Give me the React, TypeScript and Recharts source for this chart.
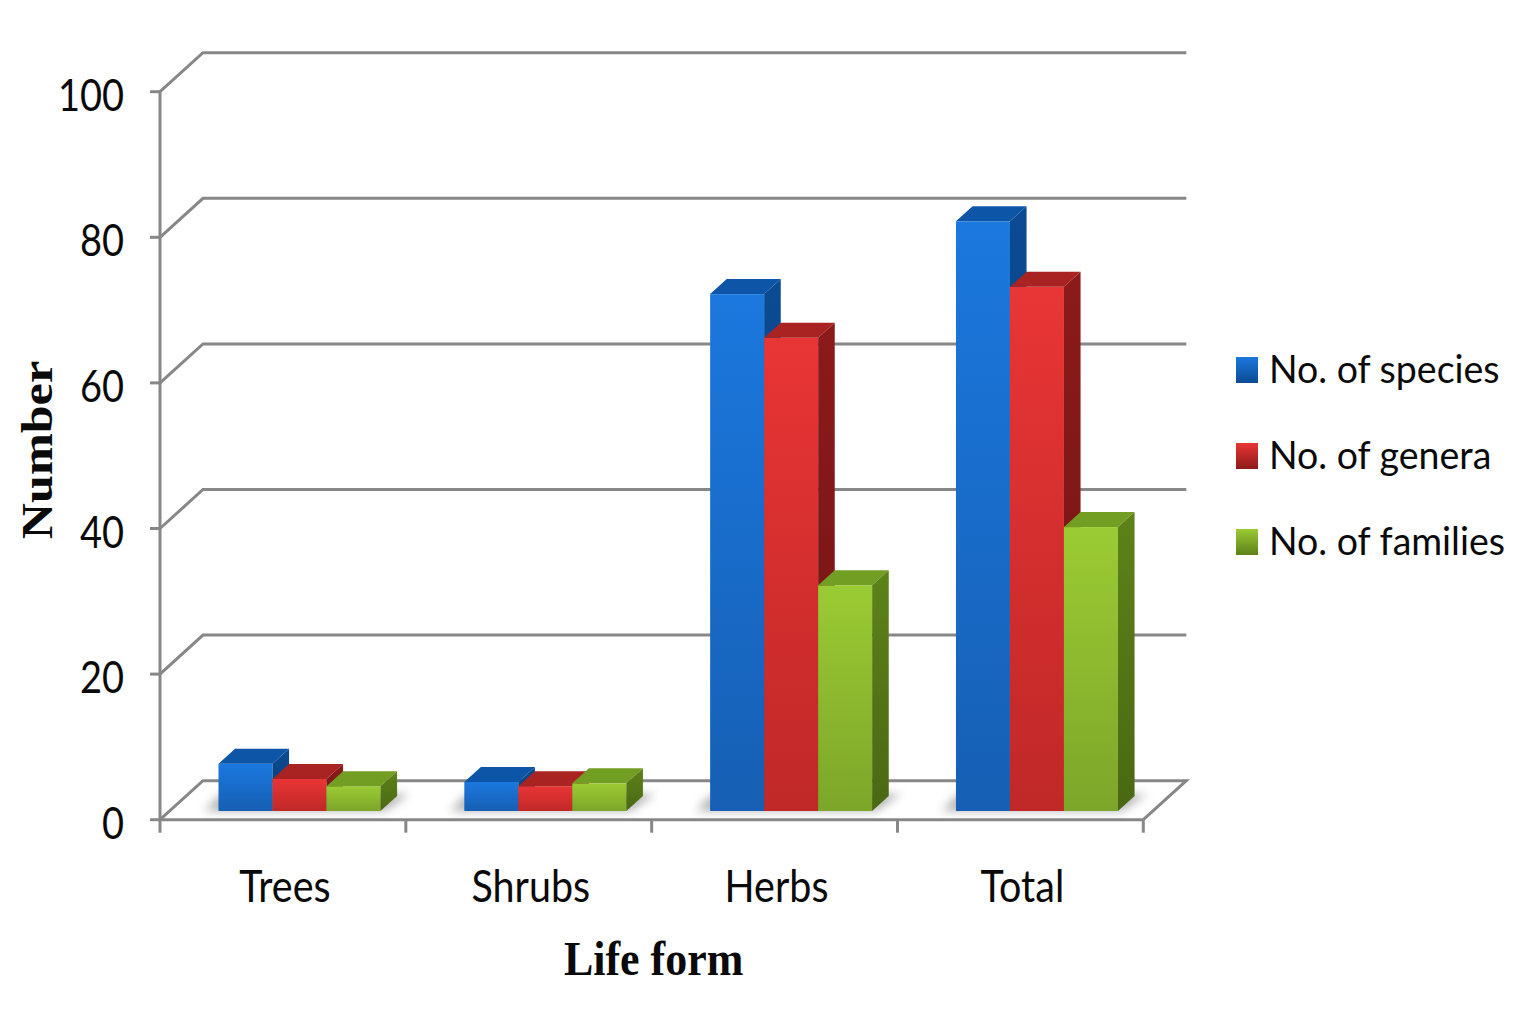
import React from 'react';
import { BarChart, Bar, XAxis, YAxis, CartesianGrid, Legend, Label } from 'recharts';

// ---- data ----
const categories = ['Trees', 'Shrubs', 'Herbs', 'Total'];
const speciesCounts = [6.5, 4, 71, 81];
const generaCounts = [4.4, 3.4, 65, 72];
const familyCounts = [3.4, 3.8, 31, 39];
const yTicks = [0, 20, 40, 60, 80, 100];
const seriesKeys = ['species', 'genera', 'families'];
const seriesNames = ['No. of species', 'No. of genera', 'No. of families'];

const data = categories.map((c, i) => ({
  name: c,
  species: speciesCounts[i],
  genera: generaCounts[i],
  families: familyCounts[i],
}));

// ---- style constants ----
const GRID_DX = 43;
const GRID_DY = 39;
const BAR_SHIFT_X = 16.7;
const BAR_SHIFT_Y = 8.7;
const TOP_DX = 16.6;
const TOP_DY = 15;
const LINE = '#878787';
const TICK_FONT = 'Lato, Carlito, "Open Sans", sans-serif';
const SERIF = '"Liberation Serif", "Times New Roman", serif';

const palettes: Record<string, any> = {
  species: { f1: '#1b78de', f2: '#165fb4', top: '#0d56a7', s1: '#0b4b93', s2: '#083b74' },
  genera: { f1: '#e93535', f2: '#c02828', top: '#a92323', s1: '#8c1a1a', s2: '#721414' },
  families: { f1: '#9bcb33', f2: '#7ca629', top: '#729e24', s1: '#5d8219', s2: '#4a6813' },
};

const StretchText = ({ x, y, sx = 1, sy = 1, rotate = 0, anchor = 'start', size, family, weight = 'normal', children }: any) => (
  <text
    transform={`translate(${x},${y}) rotate(${rotate}) scale(${sx},${sy})`}
    x={0}
    y={0}
    textAnchor={anchor}
    fontSize={size}
    fontFamily={family}
    fontWeight={weight}
    fill="#0a0a0a"
  >
    {children}
  </text>
);

const makeShape = (key: string, withShadow: boolean) => (props: any) => {
  const { x, y, width, height } = props;
  if (x == null || y == null || width == null || height == null) return <g />;
  const h = Math.max(height, 0);
  const fx = x + BAR_SHIFT_X;
  const fy = y - BAR_SHIFT_Y;
  const pal = palettes[key];
  const top = `${fx},${fy} ${fx + TOP_DX},${fy - TOP_DY} ${fx + width + TOP_DX},${fy - TOP_DY} ${fx + width},${fy}`;
  const side = `${fx + width},${fy} ${fx + width + TOP_DX},${fy - TOP_DY} ${fx + width + TOP_DX},${fy + h - TOP_DY} ${fx + width},${fy + h}`;
  const floor = fy + h;
  const gw = width * seriesKeys.length;
  const shadow = `${fx - 14},${floor} ${fx + gw + 4},${floor} ${fx + gw + TOP_DX + 12},${floor - TOP_DY - 2} ${fx + TOP_DX - 14},${floor - TOP_DY - 2}`;
  return (
    <g>
      {withShadow && <polygon points={shadow} fill="rgba(0,0,0,0.3)" filter="url(#barShadow)" />}
      <rect x={fx} y={fy} width={width} height={h} fill={`url(#front-${key})`} />
      <polygon points={top} fill={pal.top} />
      <polygon points={side} fill={`url(#side-${key})`} />
    </g>
  );
};

const renderGridLine = (props: any) => {
  const { x1, y1, x2 } = props;
  const bottom = typeof props.y === 'number' && typeof props.height === 'number' ? props.y + props.height : null;
  const isBottom = bottom != null ? Math.abs(y1 - bottom) < 1 : y1 > 800;
  let d = `M${x1},${y1} L${x1 + GRID_DX},${y1 - GRID_DY} L${x2 + GRID_DX},${y1 - GRID_DY}`;
  if (isBottom) d += ` L${x2},${y1}`;
  const ticks: any[] = [];
  if (isBottom) {
    const n = categories.length;
    for (let k = 0; k <= n; k++) {
      const tx = x1 + ((x2 - x1) * k) / n;
      ticks.push(<line key={k} x1={tx} y1={y1} x2={tx} y2={y1 + 13} stroke={LINE} strokeWidth={3} />);
    }
  }
  return (
    <g key={`grid-${y1}`}>
      <path d={d} fill="none" stroke={LINE} strokeWidth={3} />
      {ticks}
    </g>
  );
};

const YTick = (props: any) => {
  const { x, y, payload } = props;
  return (
    <StretchText x={x - 26} y={y + 19} sy={1.15} anchor="end" size={38} family={TICK_FONT}>
      {payload.value}
    </StretchText>
  );
};

const XTick = (props: any) => {
  const { x, y, payload } = props;
  return (
    <StretchText x={x + 2} y={y + 82} sy={1.12} anchor="middle" size={39.5} family={TICK_FONT}>
      {payload.value}
    </StretchText>
  );
};

const LifeFormLabel = (props: any) => {
  const vb = props.viewBox || { x: 160, y: 820, width: 983 };
  return (
    <StretchText x={vb.x + vb.width / 2 + 2} y={vb.y + 155} sy={1.12} anchor="middle" size={44} family={SERIF} weight="bold">
      Life form
    </StretchText>
  );
};

const NumberLabel = (props: any) => {
  const vb = props.viewBox || { x: 60, y: 92, width: 100, height: 728 };
  return (
    <StretchText x={vb.x - 8.5} y={vb.y + vb.height / 2 - 5.7} rotate={-90} sx={1.14} anchor="middle" size={44} family={SERIF} weight="bold">
      Number
    </StretchText>
  );
};

const LegendContent = () => (
  <svg width={310} height={250}>
    {seriesKeys.map((k, i) => (
      <g key={k}>
        <rect x={10} y={27 + i * 86} width={22} height={26} fill={`url(#legend-${k})`} />
        <StretchText x={43} y={53.3 + i * 86} sy={1.02} size={37.5} family={TICK_FONT}>
          {seriesNames[i]}
        </StretchText>
      </g>
    ))}
  </svg>
);

const Defs = () => (
  <svg width={0} height={0} style={{ position: 'absolute', left: 0, top: 0 }}>
    <defs>
      <filter id="barShadow" x="-50%" y="-200%" width="200%" height="500%">
        <feGaussianBlur stdDeviation="5" />
      </filter>
      {seriesKeys.map((k) => (
        <React.Fragment key={k}>
          <linearGradient id={`front-${k}`} x1="0" y1="0" x2="0" y2="1">
            <stop offset="0%" stopColor={palettes[k].f1} />
            <stop offset="100%" stopColor={palettes[k].f2} />
          </linearGradient>
          <linearGradient id={`side-${k}`} x1="0" y1="0" x2="0" y2="1">
            <stop offset="0%" stopColor={palettes[k].s1} />
            <stop offset="100%" stopColor={palettes[k].s2} />
          </linearGradient>
          <linearGradient id={`legend-${k}`} x1="0" y1="0" x2="0" y2="1">
            <stop offset="0%" stopColor={palettes[k].f1} />
            <stop offset="100%" stopColor={palettes[k].s1} />
          </linearGradient>
        </React.Fragment>
      ))}
    </defs>
  </svg>
);

export default function App() {
  return (
    <div style={{ position: 'absolute', left: 0, top: 0, width: 1536, height: 1024, background: '#fff' }}>
      <Defs />
      <BarChart
        width={1536}
        height={1024}
        data={data}
        margin={{ top: 91.7, right: 392.7, bottom: 144.3, left: 60 }}
        barCategoryGap="17%"
        barGap={0}
      >
        <CartesianGrid vertical={false} horizontal={renderGridLine as any} />
        <XAxis
          dataKey="name"
          height={60}
          tickLine={false}
          tickSize={0}
          tickMargin={0}
          axisLine={{ stroke: LINE, strokeWidth: 3 }}
          tick={<XTick />}
          interval={0}
        >
          <Label content={<LifeFormLabel />} />
        </XAxis>
        <YAxis
          width={100}
          domain={[0, 100]}
          ticks={yTicks}
          tickSize={10}
          tickMargin={0}
          axisLine={{ stroke: LINE, strokeWidth: 3 }}
          tickLine={{ stroke: LINE, strokeWidth: 3 }}
          tick={<YTick />}
          interval={0}
        >
          <Label content={<NumberLabel />} />
        </YAxis>
        <Legend
          layout="vertical"
          align="center"
          verticalAlign="middle"
          content={<LegendContent />}
          wrapperStyle={{ position: 'absolute', left: 1226, top: 330, width: 310, height: 250 }}
        />
        {seriesKeys.map((k, i) => (
          <Bar key={k} dataKey={k} name={seriesNames[i]} shape={makeShape(k, i === 0)} isAnimationActive={false} />
        ))}
      </BarChart>
    </div>
  );
}
